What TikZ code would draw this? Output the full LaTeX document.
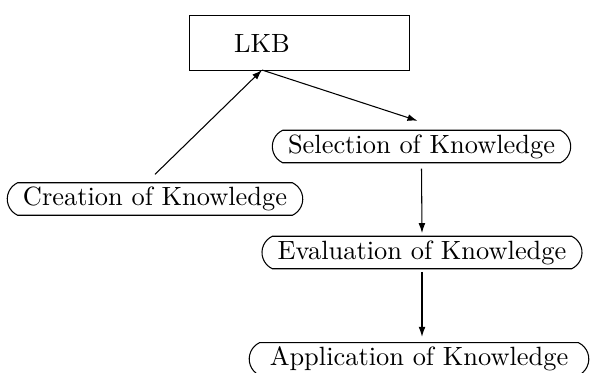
\documentclass[tikz,border=0pt]{standalone}
\usetikzlibrary{shapes.misc,arrows.meta}
\begin{document}
\begin{tikzpicture}[x=0.3788pt,y=-0.3788pt,
  stage/.style={draw,rounded rectangle,rounded rectangle arc length=130,inner xsep=4.2pt,inner ysep=1.6pt},
  conn/.style={-{Latex[length=3.8pt,width=2.6pt]},line width=0.4pt}]
\useasboundingbox (0,0) rectangle (592,372);
\node[draw,minimum width=83pt,minimum height=20.5pt,inner sep=0pt] (box) at (299.5,43) {};
\node[inner sep=0pt] (lkb) at (262,43) {LKB};
\coordinate (lkbb) at (262,70);
\node[stage] (cre) at (155,199) {Creation of Knowledge};
\node[stage] (sel) at (421.5,146.5) {Selection of Knowledge};
\node[stage] (eva) at (422,252.5) {Evaluation of Knowledge};
\node[stage,inner xsep=6pt] (app) at (419,359) {Application of Knowledge};
\draw[conn] ([yshift=3pt]cre.north) -- (lkbb);
\draw[conn] (lkbb) -- ([xshift=-1.5pt,yshift=3.4pt]sel.north);
\draw[conn] ([yshift=-2pt]sel.south) -- ([yshift=1pt]eva.north);
\draw[conn] ([yshift=-1pt]eva.south) -- ([yshift=2pt]eva.south |- app.north);
\end{tikzpicture}
\end{document}
